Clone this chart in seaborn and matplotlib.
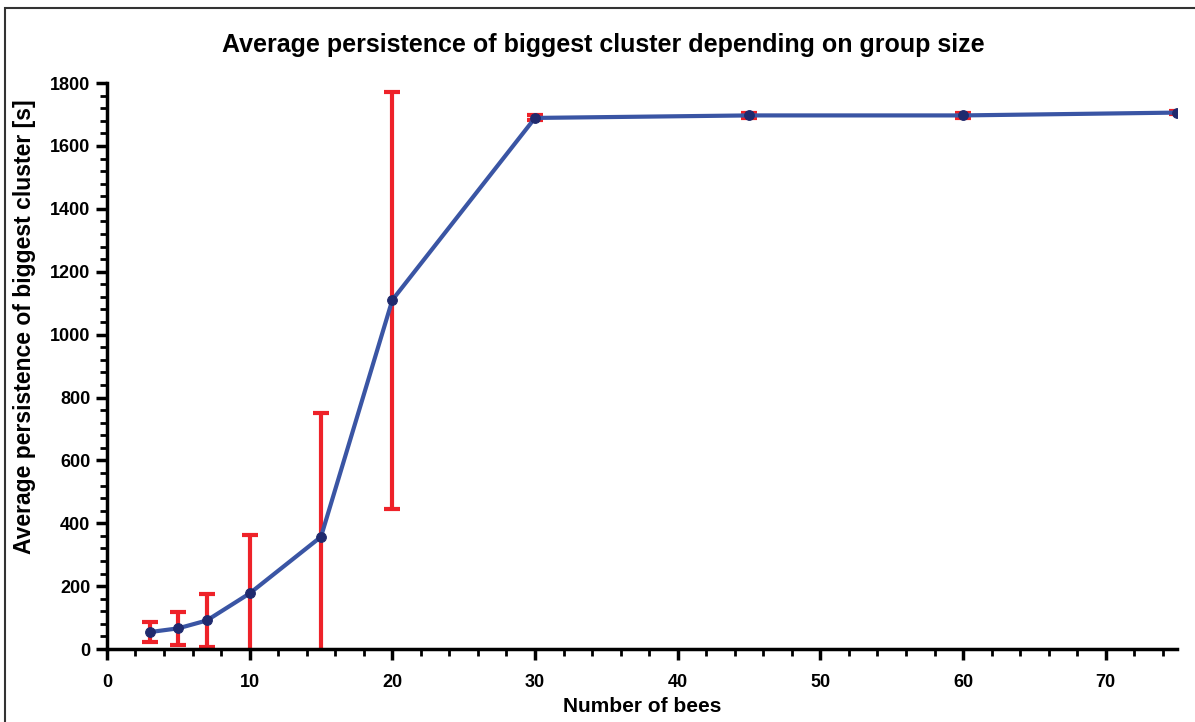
import numpy as np
import pandas as pd
import matplotlib
matplotlib.use("Agg")
import matplotlib.pyplot as plt
import seaborn as sns
from matplotlib.ticker import MultipleLocator
from matplotlib.patches import Rectangle

# Data
bees = [3, 5, 7, 10, 15, 20, 30, 45, 60, 75]
persistence = [54, 66, 91, 177, 357, 1110, 1689, 1697, 1697, 1706]
error = [32, 53, 84, 187, 393, 663, 8, 7, 7, 6]

df = pd.DataFrame({"bees": bees, "persistence": persistence, "error": error})

sns.set_style("white")
plt.rcParams["font.family"] = ["Liberation Sans", "DejaVu Sans"]
plt.rcParams["font.weight"] = "bold"
plt.rcParams["text.color"] = "black"
plt.rcParams["axes.labelcolor"] = "black"

fig = plt.figure(figsize=(11.95, 7.22), dpi=100)
ax = fig.add_axes([0.0895, 0.101, 0.8955, 0.784])

# Error bars first so the line sits on top
ax.errorbar(df["bees"], df["persistence"], yerr=df["error"], fmt="none",
            ecolor="#ee2229", elinewidth=3, capsize=6, capthick=3, zorder=2)

sns.lineplot(data=df, x="bees", y="persistence", ax=ax, color="#3a55a4",
             linewidth=3, marker="o", markersize=7, markerfacecolor="#1f2a6e",
             markeredgecolor="#1f2a6e", zorder=3)

ax.set_xlim(0, 75)
ax.set_ylim(0, 1800)
ax.xaxis.set_major_locator(MultipleLocator(10))
ax.xaxis.set_minor_locator(MultipleLocator(2))
ax.yaxis.set_major_locator(MultipleLocator(200))
ax.yaxis.set_minor_locator(MultipleLocator(40))

for side in ["top", "right"]:
    ax.spines[side].set_visible(False)
for side in ["left", "bottom"]:
    ax.spines[side].set_linewidth(2.5)
    ax.spines[side].set_color("black")

ax.tick_params(which="major", direction="out", length=8, width=2.5,
               labelsize=13, colors="black", bottom=True, left=True)
ax.tick_params(axis="x", which="major", pad=10)
ax.tick_params(axis="y", which="major", pad=4)
ax.tick_params(which="minor", direction="out", length=5, width=2,
               colors="black", bottom=True, left=True)
for lbl in ax.get_xticklabels() + ax.get_yticklabels():
    lbl.set_fontweight("bold")

# Title is centred on the figure, not the axes
fig.text(0.505, 0.938, "Average persistence of biggest cluster depending on group size",
         fontsize=18, fontweight="bold", ha="center", va="center", color="black")
ax.set_xlabel("Number of bees", fontsize=15, fontweight="bold", labelpad=4)
ax.set_ylabel("Average persistence of biggest cluster [s]", fontsize=16.5,
              fontweight="bold")
ax.yaxis.set_label_coords(-0.066, 0.569)

# Frame around the whole figure
fig.patches.append(Rectangle((0.004, -0.01), 1.0, 0.999, transform=fig.transFigure,
                             fill=False, edgecolor="#333333", linewidth=1.5))

fig.savefig("out.png", dpi=100)
